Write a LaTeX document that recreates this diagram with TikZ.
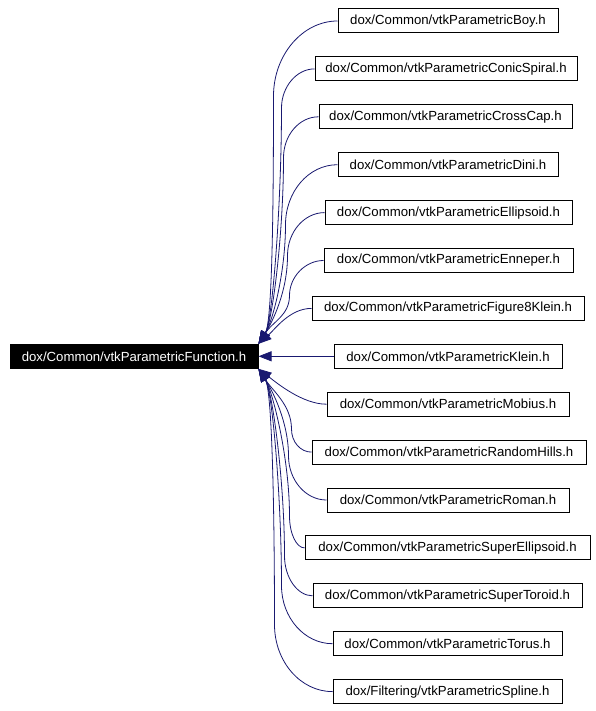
\documentclass[tikz,border=0pt]{standalone}
\usepackage{fontspec}
\setmainfont{Liberation Sans}
\usetikzlibrary{arrows.meta,calc}
\definecolor{edgeblue}{HTML}{191970}
\begin{document}
\begin{tikzpicture}[x=1pt,y=-1pt,
  lbl/.style={font=\fontsize{13.2}{15}\selectfont},
  leaf/.style={lbl,draw=black,line width=1pt,fill=white,minimum height=24pt,inner sep=0pt},
  mainbox/.style={lbl,draw=black,fill=black,text=white,line width=1pt,minimum height=24pt,minimum width=248pt,inner sep=0pt},
  edge/.style={draw=edgeblue,line width=0.8pt,-{Triangle[length=13pt,width=10pt]}}
]
\useasboundingbox (0,0) rectangle (596,711);
\fill[white] (0,0) rectangle (596,711);

\node[mainbox] (main) at (134,356.3) {dox/Common/vtkParametricFunction.h};

\node[leaf,minimum width=220pt] (n0) at (448,21) {dox/Common/vtkParametricBoy.h};
\node[leaf,minimum width=262pt] (n1) at (446,68.9) {dox/Common/vtkParametricConicSpiral.h};
\node[leaf,minimum width=253pt] (n2) at (445.5,116.8) {dox/Common/vtkParametricCrossCap.h};
\node[leaf,minimum width=220pt] (n3) at (448,164.7) {dox/Common/vtkParametricDini.h};
\node[leaf,minimum width=247pt] (n4) at (448.5,212.6) {dox/Common/vtkParametricEllipsoid.h};
\node[leaf,minimum width=249pt] (n5) at (448.5,260.5) {dox/Common/vtkParametricEnneper.h};
\node[leaf,minimum width=272pt] (n6) at (448,308.4) {dox/Common/vtkParametricFigure8Klein.h};
\node[leaf,minimum width=228pt] (n7) at (448,356.3) {dox/Common/vtkParametricKlein.h};
\node[leaf,minimum width=242pt] (n8) at (448,404.2) {dox/Common/vtkParametricMobius.h};
\node[leaf,minimum width=274pt] (n9) at (449,452.1) {dox/Common/vtkParametricRandomHills.h};
\node[leaf,minimum width=242pt] (n10) at (448,500) {dox/Common/vtkParametricRoman.h};
\node[leaf,minimum width=285pt] (n11) at (447.5,547.9) {dox/Common/vtkParametricSuperEllipsoid.h};
\node[leaf,minimum width=269pt] (n12) at (447.5,595.8) {dox/Common/vtkParametricSuperToroid.h};
\node[leaf,minimum width=229pt] (n13) at (447.5,643.7) {dox/Common/vtkParametricTorus.h};
\node[leaf,minimum width=229pt] (n14) at (447.5,691.6) {dox/Filtering/vtkParametricSpline.h};

% upper edges
\draw[edge] (n0.west) .. controls +(-35,0) and +(0,-41) .. ++(-64,75) .. controls +(0,100) and +(14,-22) .. (main.north east);
\draw[edge] (n1.west) .. controls +(-18,0) and +(0,-21) .. ++(-33,39) .. controls +(0,95) and +(14,-22) .. (main.north east);
\draw[edge] (n2.west) .. controls +(-19,0) and +(0,-23) .. ++(-35,41) .. controls +(0,75) and +(14,-22) .. (main.north east);
\draw[edge] (n3.west) .. controls +(-29,0) and +(0,-33) .. ++(-52,60) .. controls +(0,48) and +(14,-22) .. (main.north east);
\draw[edge] (n4.west) .. controls +(-20,0) and +(0,-24) .. ++(-37,43) .. controls +(0,36) and +(14,-22) .. (main.north east);
\draw[edge] (n5.west) .. controls +(-18,0) and +(0,-19) .. ++(-34,35) .. controls +(0,20) and +(14,-22) .. (main.north east);
\draw[edge] (n6.west) .. controls +(-22,0) and +(16,-14) .. (main.north east);
% straight
\draw[edge] (n7.west) -- (main.east);
% lower edges
\draw[edge] (n8.west) .. controls +(-24,0) and +(18,14) .. (main.south east);
\draw[edge] (n9.west) .. controls +(-11,0) and +(0,13) .. ++(-20,-23) .. controls +(0,-24) and +(14,22) .. (main.south east);
\draw[edge] (n10.west) .. controls +(-21,0) and +(0,24) .. ++(-38,-44) .. controls +(0,-34) and +(14,22) .. (main.south east);
\draw[edge] (n11.west) .. controls +(-8,0) and +(0,18) .. ++(-15,-32) .. controls +(0,-58) and +(14,22) .. (main.south east);
\draw[edge] (n12.west) .. controls +(-15,0) and +(0,22) .. ++(-28,-40) .. controls +(0,-74) and +(14,22) .. (main.south east);
\draw[edge] (n13.west) .. controls +(-28,0) and +(0,32) .. ++(-51,-58) .. controls +(0,-86) and +(14,22) .. (main.south east);
\draw[edge] (n14.west) .. controls +(-32,0) and +(0,37) .. ++(-58,-67) .. controls +(0,-102) and +(14,22) .. (main.south east);
\end{tikzpicture}
\end{document}
